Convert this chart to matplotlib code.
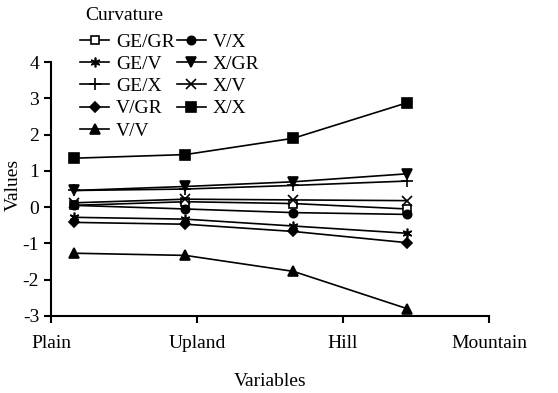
import matplotlib
matplotlib.use('Agg')
import matplotlib.pyplot as plt

## data
categories = ['Plain', 'Upland', 'Hill', 'Mountain']
x_pos = [0.16, 0.92, 1.66, 2.44]   ## where the points sit on the category axis

labels = ['GE/GR', 'GE/V', 'GE/X', 'V/GR', 'V/V', 'V/X', 'X/GR', 'X/V', 'X/X']
ge_gr = [0.05, 0.15, 0.10, -0.05]
ge_v  = [-0.28, -0.33, -0.52, -0.72]
ge_x  = [0.46, 0.50, 0.60, 0.72]
v_gr  = [-0.42, -0.47, -0.67, -0.98]
v_v   = [-1.27, -1.33, -1.77, -2.80]
v_x   = [0.05, -0.05, -0.15, -0.20]
x_gr  = [0.46, 0.57, 0.70, 0.92]
x_v   = [0.12, 0.22, 0.20, 0.18]
x_x   = [1.35, 1.45, 1.90, 2.88]

series = [ge_gr, ge_v, ge_x, v_gr, v_v, v_x, x_gr, x_v, x_x]
markers = ['s', (6, 2, 0), '+', 'D', '^', 'o', 'v', 'x', 's']
faces = ['white', 'black', 'black', 'black', 'black', 'black', 'black', 'black', 'black']
sizes = [6, 7, 8, 5, 7, 6, 7, 7, 7]

###################################
# plotting
plt.rcParams['font.family'] = ['Liberation Serif', 'DejaVu Serif']
plt.rcParams['font.size'] = 13
plt.rcParams['axes.unicode_minus'] = False

fig = plt.figure(figsize=(5.58, 3.93), dpi=100)
ax = fig.add_axes([0.0914, 0.196, 0.785, 0.646])

for vals, lab, m, fc, ms in zip(series, labels, markers, faces, sizes):
    ax.plot(x_pos, vals, color='black', lw=1.2, marker=m, mfc=fc, mec='black',
            ms=ms, mew=1.2, label=lab)

ax.set_xlim(0, 3)
ax.set_ylim(-3, 4)
ax.set_xticks(range(len(categories)))
ax.set_xticklabels(categories)
ax.set_yticks(range(-3, 5))
ax.spines['top'].set_visible(False)
ax.spines['right'].set_visible(False)
ax.spines['left'].set_linewidth(1.5)
ax.spines['bottom'].set_linewidth(1.5)
ax.tick_params(width=1.5, length=5, labelsize=14)
ax.tick_params(axis='x', pad=9)
ax.set_xlabel('Variables', fontsize=14)
ax.set_ylabel('Values', fontsize=14)
ax.xaxis.set_label_coords(0.5, -0.225)
ax.yaxis.set_label_coords(-0.066, 0.516)

## legend title drawn as its own text, legend entries below it
fig.text(85 / 558, 1 - 15 / 393, 'Curvature', fontsize=14, ha='left', va='center')
leg = fig.legend(*ax.get_legend_handles_labels(), ncol=2, frameon=False,
                 fontsize=14, loc='upper left',
                 bbox_to_anchor=(80 / 558, 1 - 33 / 393),
                 handlelength=1.5, handletextpad=0.35, columnspacing=0.1,
                 labelspacing=0.24, borderpad=0.0, borderaxespad=0.0)

fig.savefig('out.png', dpi=100)
